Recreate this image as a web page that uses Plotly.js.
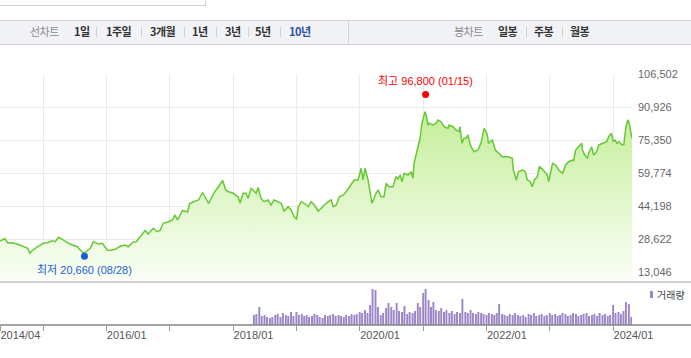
<!DOCTYPE html>
<html><head><meta charset="utf-8">
<script src="https://cdn.plot.ly/plotly-3.0.1.min.js"></script>
<style>
html,body{margin:0;padding:0;background:#fff;overflow:hidden;width:691px;height:358px}
#chart{position:absolute;left:0;top:0;width:691px;height:358px}
#topbox{position:absolute;left:0;top:0;width:205px;height:5px;border-right:1px solid #cfd1d6;border-bottom:1px solid #cfd1d6;background:#fff}
#bar{position:absolute;left:0;top:20px;width:691px;height:23px;background:#f1f2f6;border-top:1px solid #d3d5db;border-bottom:1px solid #d3d5db;font-family:"Noto Sans CJK KR",sans-serif;font-size:11px;letter-spacing:-0.5px;z-index:5}
#bar span{position:absolute;top:0;line-height:21px;white-space:nowrap}
#bar .lab{color:#8c8c8c;font-weight:normal}
#bar .it{color:#333;font-weight:bold}
#bar .on{color:#2d4fa6;font-weight:bold}
#bar i{position:absolute;top:6px;width:1px;height:10px;background:#d2d2d2}
#bar b.div{position:absolute;top:0;left:348px;width:1px;height:23px;background:#d3d5db}
</style>
</head><body>
<div id="chart"></div>
<div id="topbox"></div>
<div id="bar">
  <span class="lab" style="left:30px">선차트</span>
  <span class="it" style="left:74px">1일</span><i style="left:96px"></i>
  <span class="it" style="left:106px">1주일</span><i style="left:141px"></i>
  <span class="it" style="left:150px">3개월</span><i style="left:184px"></i>
  <span class="it" style="left:192px">1년</span><i style="left:216px"></i>
  <span class="it" style="left:225px">3년</span><i style="left:248px"></i>
  <span class="it" style="left:255px">5년</span><i style="left:280px"></i>
  <span class="on" style="left:289px">10년</span>
  <b class="div"></b>
  <span class="lab" style="left:454px">봉차트</span>
  <span class="it" style="left:498px">일봉</span><i style="left:526px"></i>
  <span class="it" style="left:534px">주봉</span><i style="left:562px"></i>
  <span class="it" style="left:570px">월봉</span>
</div>
<script>
const priceDates = [
'2014-04-28','2014-05-26','2014-06-12','2014-07-11','2014-08-20','2014-09-18','2014-10-05','2014-10-17','2014-11-03','2014-12-02',
'2015-01-03','2015-01-27','2015-02-24','2015-03-13','2015-03-30','2015-04-22','2015-05-21','2015-06-19','2015-07-18','2015-08-04',
'2015-08-24','2015-09-14','2015-10-01','2015-10-18','2015-11-16','2015-12-09',
'2016-01-06','2016-01-23','2016-02-21','2016-03-21','2016-04-19','2016-05-06','2016-06-04','2016-06-21','2016-07-14','2016-08-12',
'2016-08-29','2016-09-27','2016-10-20','2016-11-06','2016-11-24','2016-12-17',
'2017-01-17','2017-01-29','2017-02-15','2017-03-16','2017-04-14','2017-04-25','2017-05-18','2017-06-16','2017-07-09','2017-07-27',
'2017-08-13','2017-09-11','2017-10-10','2017-11-02','2017-11-19','2017-12-06',
'2018-01-02','2018-01-18','2018-01-30','2018-02-10','2018-02-28','2018-03-17','2018-03-28','2018-04-15','2018-04-26','2018-05-14',
'2018-05-25','2018-06-11','2018-06-29','2018-07-22','2018-08-08','2018-08-25','2018-09-17','2018-10-05','2018-10-22','2018-11-14',
'2018-12-01','2018-12-19',
'2019-01-02','2019-01-12','2019-01-29','2019-02-15','2019-03-10','2019-03-27','2019-04-14','2019-05-07','2019-05-24','2019-06-10',
'2019-07-04','2019-07-21','2019-08-01','2019-08-19','2019-09-05','2019-09-28','2019-10-15','2019-11-02','2019-11-13','2019-11-30',
'2019-12-23',
'2020-01-02','2020-01-09','2020-01-20','2020-02-01','2020-02-18','2020-02-24','2020-03-12','2020-03-24','2020-04-04','2020-04-16',
'2020-05-03','2020-05-20','2020-06-01','2020-06-18','2020-07-11','2020-07-28','2020-08-09','2020-08-21','2020-09-01','2020-09-13',
'2020-10-06','2020-10-23','2020-11-03','2020-11-09','2020-11-21','2020-12-08','2020-12-14','2020-12-25',
'2021-01-11','2021-01-18','2021-01-29','2021-02-04','2021-02-27','2021-03-16','2021-03-27','2021-04-14','2021-05-01','2021-05-24',
'2021-05-30','2021-06-22','2021-07-09','2021-07-27','2021-08-01','2021-08-13','2021-08-24','2021-09-05','2021-09-16','2021-09-22',
'2021-10-04','2021-10-21','2021-11-13','2021-11-30','2021-12-12','2021-12-18','2021-12-29',
'2022-01-06','2022-01-12','2022-02-04','2022-02-21','2022-03-10','2022-04-02','2022-04-20','2022-05-07','2022-05-30','2022-06-05',
'2022-06-22','2022-07-04','2022-07-27','2022-08-13','2022-08-24','2022-09-11','2022-09-22','2022-10-04','2022-10-21','2022-11-02',
'2022-11-25','2022-12-18','2022-12-26',
'2023-01-06','2023-01-17','2023-02-04','2023-02-21','2023-03-16','2023-04-02','2023-04-20','2023-05-13','2023-05-18','2023-05-30',
'2023-06-16','2023-07-04','2023-07-09','2023-07-21','2023-08-07','2023-08-13','2023-08-30','2023-09-11','2023-09-28','2023-10-10',
'2023-11-02','2023-11-25','2023-12-06','2023-12-23',
'2024-01-02','2024-01-12','2024-01-23','2024-02-04','2024-02-21','2024-03-03','2024-03-15','2024-03-26','2024-04-01','2024-04-19'
];
const priceValues = [
27800,28980,26860,27000,25910,25110,24360,22000,23560,25110,
26710,27000,27940,27470,29540,28600,27000,25910,25110,23560,
22000,23320,24360,27470,26380,26710,
23560,23320,23890,25300,25910,25110,27330,27470,29820,32750,
31100,33780,32180,32750,36140,36610,
37700,40050,37700,42170,41470,45470,46320,47120,50660,48300,
45470,50280,53720,56310,51830,51030,
50280,49240,48540,45710,50280,50280,47920,52640,51830,50280,
53010,47920,46320,47120,44760,47120,46320,45570,41940,43960,
42410,39250,
38030,43820,46320,45570,43960,46320,44760,41940,43210,44760,
46320,47120,43960,44760,48540,49480,51030,53390,54190,56550,
56550,
60460,62060,56550,62060,56550,53390,45570,47920,50280,51830,
48680,48680,54990,53390,53390,58100,57020,58900,55750,59710,
58900,60460,57350,64420,68330,73840,76200,83270,
88740,87180,82470,83270,82470,83270,84830,84020,81670,80910,
82470,81670,80110,79310,81670,73840,76200,76200,77760,75400,
72240,69880,70690,73840,78560,80910,79310,
77760,73840,75400,70690,69130,67530,67530,67530,66770,61260,
56550,60460,61260,60460,56550,55750,53390,56550,58100,62820,
61260,58900,55750,
59710,64420,63620,61260,59710,63620,65170,65970,65500,70690,
72240,73840,70690,68330,66770,69130,72240,68330,69880,73040,
73840,74600,76950,78560,
74600,75400,73840,74600,73040,73280,81670,84830,84020,76200
];
const volDates = [
'2018-05-01','2018-05-15','2018-06-01','2018-06-15','2018-07-01','2018-07-15','2018-08-01','2018-08-15','2018-09-01','2018-09-15','2018-10-01','2018-10-15','2018-11-01','2018-11-15','2018-12-01','2018-12-15',
'2019-01-01','2019-01-15','2019-02-01','2019-02-15','2019-03-01','2019-03-15','2019-04-01','2019-04-15','2019-05-01','2019-05-15','2019-06-01','2019-06-15','2019-07-01','2019-07-15','2019-08-01','2019-08-15','2019-09-01','2019-09-15','2019-10-01','2019-10-15','2019-11-01','2019-11-15','2019-12-01','2019-12-15',
'2020-01-01','2020-01-15','2020-02-01','2020-02-15','2020-03-01','2020-03-15','2020-04-01','2020-04-15','2020-05-01','2020-05-15','2020-06-01','2020-06-15','2020-07-01','2020-07-15','2020-08-01','2020-08-15','2020-09-01','2020-09-15','2020-10-01','2020-10-15','2020-11-01','2020-11-15','2020-12-01','2020-12-15',
'2021-01-01','2021-01-15','2021-02-01','2021-02-15','2021-03-01','2021-03-15','2021-04-01','2021-04-15','2021-05-01','2021-05-15','2021-06-01','2021-06-15','2021-07-01','2021-07-15','2021-08-01','2021-08-15','2021-09-01','2021-09-15','2021-10-01','2021-10-15','2021-11-01','2021-11-15','2021-12-01','2021-12-15',
'2022-01-01','2022-01-15','2022-02-01','2022-02-15','2022-03-01','2022-03-15','2022-04-01','2022-04-15','2022-05-01','2022-05-15','2022-06-01','2022-06-15','2022-07-01','2022-07-15','2022-08-01','2022-08-15','2022-09-01','2022-09-15','2022-10-01','2022-10-15','2022-11-01','2022-11-15','2022-12-01','2022-12-15',
'2023-01-01','2023-01-15','2023-02-01','2023-02-15','2023-03-01','2023-03-15','2023-04-01','2023-04-15','2023-05-01','2023-05-15','2023-06-01','2023-06-15','2023-07-01','2023-07-15','2023-08-01','2023-08-15','2023-09-01','2023-09-15','2023-10-01','2023-10-15','2023-11-01','2023-11-15','2023-12-01','2023-12-15',
'2024-01-01','2024-01-15','2024-02-01','2024-02-15','2024-03-01','2024-03-15','2024-04-01','2024-04-15'
];
const volValues = [
70,77,126,63,70,56,49,56,70,77,56,84,70,63,91,63,
91,70,77,63,70,56,63,77,70,56,49,70,63,70,77,63,70,63,56,70,63,77,70,77,
91,84,105,84,140,252,245,126,70,84,119,154,126,105,154,98,91,133,77,91,84,98,154,126,
224,252,175,126,161,105,98,119,91,105,84,98,77,91,84,182,91,84,105,84,77,91,84,77,
70,84,77,70,84,147,77,70,63,77,70,84,70,63,70,56,77,70,84,63,70,77,63,70,
84,70,77,63,70,84,77,63,70,84,77,63,70,77,84,63,70,77,63,84,70,77,63,70,
140,84,91,77,98,161,147,56
];
const yTickValues = [13046, 28622, 44198, 59774, 75350, 90926, 106502];
const yearTicks = ['2015-01-01','2016-01-01','2017-01-01','2018-01-01','2019-01-01','2020-01-01','2021-01-01','2022-01-01','2023-01-01','2024-01-01'];
const xTickValues = ['2014-04-28'].concat(yearTicks);
const xTickLabels = ['2014/04','','2016/01','','2018/01','','2020/01','','2022/01','','2024/01'];
const highPoint = {date:'2021-01-15', value:96800, label:'최고 96,800 (01/15)'};
const lowPoint = {date:'2015-08-28', value:20660, label:'최저 20,660 (08/28)'};
const volumeName = '거래량';

const xRange = ['2014-04-28','2024-04-19'];
const priceRange = [8474, 106502];
const volDomTop = 43/251;
const fontFam = '"Liberation Sans", "Noto Sans CJK KR", sans-serif';

const traces = [
  {type:'scatter', mode:'lines', x:priceDates, y:priceValues, xaxis:'x', yaxis:'y',
   line:{color:'#66c933', width:1.5}, fill:'tozeroy',
   fillgradient:{type:'vertical', start:priceRange[0], stop:90000,
     colorscale:[[0,'#fbfef7'],[1,'#c3ee98']]},
   hoverinfo:'skip'},
  {type:'scatter', mode:'markers', x:[highPoint.date], y:[highPoint.value], xaxis:'x', yaxis:'y',
   marker:{color:'#ff0000', size:7}, hoverinfo:'skip', cliponaxis:false},
  {type:'scatter', mode:'markers', x:[lowPoint.date], y:[lowPoint.value], xaxis:'x', yaxis:'y',
   marker:{color:'#1c5fd4', size:7}, hoverinfo:'skip', cliponaxis:false},
  {type:'bar', x:volDates, y:volValues, xaxis:'x2', yaxis:'y2', name:volumeName,
   marker:{color:'#9b86c8', line:{width:0}}, hoverinfo:'skip'}
];

const layout = {
  width:691, height:358,
  margin:{l:0, r:59, t:74, b:33, pad:0},
  paper_bgcolor:'#ffffff', plot_bgcolor:'rgba(0,0,0,0)',
  showlegend:false,
  font:{family:fontFam, size:11, color:'#666'},
  xaxis:{type:'date', range:xRange, anchor:'y', tickvals:yearTicks, showticklabels:false,
    showgrid:true, gridcolor:'#ebebeb', gridwidth:1, ticks:'', showline:false, zeroline:false, fixedrange:true},
  xaxis2:{type:'date', matches:'x', anchor:'y2', tickvals:xTickValues, ticktext:xTickLabels,
    showgrid:false, ticks:'outside', ticklen:5, tickwidth:1, tickcolor:'#9a9a9a',
    ticklabelposition:'outside right', tickfont:{family:fontFam, size:11, color:'#555'},
    showline:false, zeroline:false, fixedrange:true},
  yaxis:{domain:[volDomTop,1], range:priceRange, side:'right', anchor:'x', tickvals:yTickValues,
    tickformat:',d', showgrid:true, gridcolor:'#ebebeb', gridwidth:1, zeroline:false, ticks:'',
    ticklabelstandoff:5, tickfont:{family:fontFam, size:11, color:'#666'}, showline:false, fixedrange:true},
  yaxis2:{domain:[0,volDomTop], range:[0,301], anchor:'x2', showticklabels:false, showgrid:false,
    zeroline:false, showline:false, ticks:'', fixedrange:true},
  bargap:0.2,
  shapes:[
    {type:'line', xref:'paper', yref:'paper', x0:0, x1:691/632, y0:volDomTop, y1:volDomTop,
     line:{color:'#a3a3a3', width:1}},
    {type:'line', xref:'paper', yref:'paper', x0:0, x1:691/632, y0:0, y1:0,
     line:{color:'#858585', width:1.5}},
    {type:'rect', xref:'paper', yref:'paper', x0:650/632, x1:653/632, y0:27/251, y1:34/251,
     fillcolor:'#9b86c8', line:{width:0}}
  ],
  annotations:[
    {x:highPoint.date, y:highPoint.value, xref:'x', yref:'y', text:highPoint.label, showarrow:false,
     yshift:14, font:{family:fontFam, size:11, color:'#ff0000'}},
    {x:lowPoint.date, y:lowPoint.value, xref:'x', yref:'y', text:lowPoint.label, showarrow:false,
     yshift:-14, font:{family:fontFam, size:11, color:'#1c5fd4'}},
    {x:655/632, y:30.5/251, xref:'paper', yref:'paper', xanchor:'left', yanchor:'middle', text:volumeName,
     showarrow:false, font:{family:'"Noto Sans CJK KR", sans-serif', size:10, color:'#444'}}
  ]
};

Plotly.newPlot('chart', traces, layout, {staticPlot:true, displayModeBar:false});
</script>
</body></html>
